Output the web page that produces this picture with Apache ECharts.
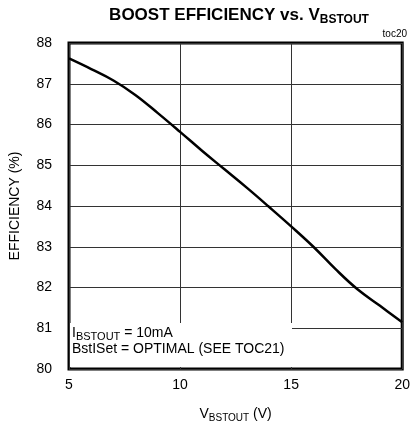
<!DOCTYPE html>
<html>
<head>
<meta charset="utf-8">
<script src="https://cdn.jsdelivr.net/npm/echarts@6/dist/echarts.min.js"></script>
<style>
    html, body { margin: 0; padding: 0; background: #fff; }
    #chart { width: 413px; height: 428px; }
</style>
</head>
<body>
<div id="chart"></div>
<script>
    // values
    var vOut = [5, 6, 7, 8, 9, 10, 11, 12, 13, 14, 15, 16, 17, 18, 19, 20];
    var efficiency = [87.62, 87.36, 87.08, 86.72, 86.28, 85.82, 85.35, 84.9, 84.45, 83.98, 83.5, 83.0, 82.45, 81.95, 81.55, 81.15];
    var xTicks = [5, 10, 15, 20];
    var yTicks = [80, 81, 82, 83, 84, 85, 86, 87, 88];

    var font = 'Liberation Sans, Arial, sans-serif';
    var points = vOut.map(function (v, i) { return [v, efficiency[i]]; });

    var chart = echarts.init(document.getElementById('chart'));
    var option = {
        animation: false,
        backgroundColor: '#fff',
        title: {
            text: '{b|BOOST EFFICIENCY vs. V}{s|BSTOUT}',
            left: 234,
            textAlign: 'center',
            top: 0,
            textStyle: {
                rich: {
                    b: {fontFamily: font, fontWeight: 'bold', fontSize: 17, color: '#000'},
                    s: {fontFamily: font, fontWeight: 'bold', fontSize: 12, color: '#000', padding: [9, 0, 0, 0]}
                }
            }
        },
        grid: {
            left: 68,
            right: 8,
            top: 43,
            bottom: 59,
            show: true,
            borderColor: '#000',
            borderWidth: 3
        },
        xAxis: {
            type: 'value',
            min: xTicks[0],
            max: xTicks[xTicks.length - 1],
            interval: 5,
            axisLine: {show: false},
            axisTick: {show: false},
            axisLabel: {color: '#000', fontSize: 14, fontFamily: font, margin: 9},
            splitLine: {show: true, lineStyle: {color: '#333', width: 1}},
            name: '{n|V}{s|BSTOUT}{n| (V)}',
            nameLocation: 'middle',
            nameGap: 37,
            nameTextStyle: {
                rich: {
                    n: {fontFamily: font, fontSize: 14, color: '#000'},
                    s: {fontFamily: font, fontSize: 10, color: '#000', padding: [7, 0, 0, 0]}
                }
            }
        },
        yAxis: {
            type: 'value',
            min: yTicks[0],
            max: yTicks[yTicks.length - 1],
            interval: 1,
            axisLine: {show: false},
            axisTick: {show: false},
            axisLabel: {color: '#000', fontSize: 14, fontFamily: font, margin: 17},
            splitLine: {show: true, lineStyle: {color: '#333', width: 1}},
            name: 'EFFICIENCY (%)',
            nameLocation: 'middle',
            nameGap: 47,
            nameTextStyle: {color: '#000', fontSize: 14, fontFamily: font}
        },
        graphic: [
            {
                type: 'rect',
                z: 5,
                shape: {x: 70, y: 323, width: 222, height: 44},
                style: {fill: '#fff'}
            },
            {
                type: 'text',
                z: 6,
                left: 72,
                top: 324,
                style: {
                    text: '{n|I}{s|BSTOUT}{n| = 10mA}\n{n|BstISet = OPTIMAL (SEE TOC21)}',
                    rich: {
                        n: {fontFamily: font, fontSize: 14, color: '#000', lineHeight: 16},
                        s: {fontFamily: font, fontSize: 11, color: '#000', lineHeight: 16, padding: [7, 0, 0, 0]}
                    }
                }
            },
            {
                type: 'text',
                z: 6,
                right: 6,
                top: 29,
                style: {text: 'toc20', fontFamily: font, fontSize: 10, fill: '#000'}
            }
        ],
        series: [
            {
                type: 'line',
                data: points,
                smooth: 0.4,
                showSymbol: false,
                z: 8,
                lineStyle: {color: '#000', width: 2.5}
            }
        ]
    };
    chart.setOption(option);
</script>
</body>
</html>
